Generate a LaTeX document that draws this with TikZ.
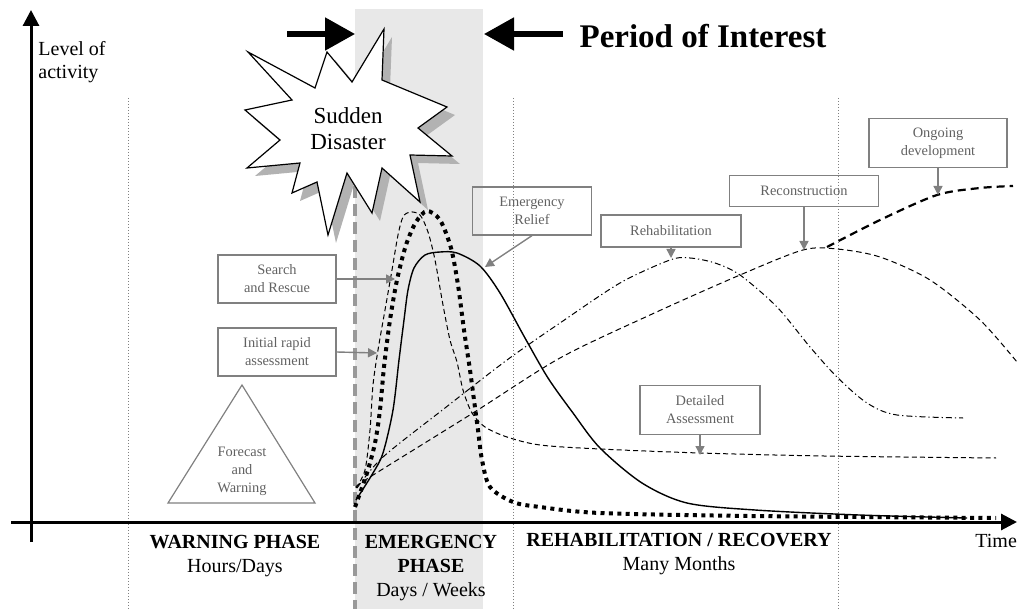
\documentclass[tikz,border=0pt]{standalone}
\usepackage{fontspec}
\setmainfont{Liberation Serif}
\usetikzlibrary{arrows.meta}

\begin{document}
\begin{tikzpicture}[
  x=0.5pt, y=-0.5pt,
  tag/.style={draw=black!50, text=black!62, line width=0.6pt, align=center, inner sep=0pt, font=\fontsize{7.2}{9}\selectfont},
  pointer/.style={-{Triangle[length=4.5pt,width=4.5pt]}, draw=black!50, line width=0.7pt},
  axis/.style={-{Triangle[length=8pt,width=8pt]}, line width=1.5pt},
  bigarrow/.style={-{Triangle[length=15pt,width=16pt]}, line width=2.6pt},
  phase/.style={align=center, anchor=north, inner sep=0pt, font=\fontsize{10}{12}\selectfont},
  divider/.style={draw=black!50, line width=0.4pt, dash pattern=on 0.6pt off 0.9pt},
  onset/.style={draw=black!40, line width=2pt, dash pattern=on 6pt off 3pt},
  rescuec/.style={line width=0.5pt, dash pattern=on 2.5pt off 1.6pt},
  reliefc/.style={line width=0.7pt},
  peakc/.style={line width=2pt, dash pattern=on 2pt off 2.2pt},
  rehabc/.style={line width=0.5pt, dash pattern=on 3pt off 1.5pt on 0.6pt off 1.5pt},
  reconc/.style={line width=0.5pt, dash pattern=on 2.8pt off 1.8pt},
  ongoingc/.style={line width=1.1pt, dash pattern=on 4pt off 2.5pt}
]
\useasboundingbox (0,0) rectangle (1017,609);

% period of interest band
\fill[black!9] (355,9) rectangle (483,609);
\draw[divider] (128,98) -- (128,609);
\draw[divider] (513,98) -- (513,609);
\draw[divider] (838,98) -- (838,609);
\draw[onset] (355,150) -- (355,609);

% sudden disaster
\fill[black!30, shift={(8,8)}] (384,29) -- (382,80) -- (447,107) -- (418,128) -- (452,156) -- (410,155) -- (420,202) -- (382,168) -- (372,213) -- (347,173) -- (328,235) -- (317,182) -- (292,193) -- (300,163) -- (247,168) -- (280,140) -- (245,110) -- (292,100) -- (248,52) -- (315,88) -- (327,52) -- (352,82) -- cycle;
\draw[fill=white, line width=0.6pt] (384,29) -- (382,80) -- (447,107) -- (418,128) -- (452,156) -- (410,155) -- (420,202) -- (382,168) -- (372,213) -- (347,173) -- (328,235) -- (317,182) -- (292,193) -- (300,163) -- (247,168) -- (280,140) -- (245,110) -- (292,100) -- (248,52) -- (315,88) -- (327,52) -- (352,82) -- cycle;
\node[align=center, inner sep=0pt, font=\fontsize{11.5}{13}\selectfont] (sudden) at (348,129) {Sudden\\Disaster};

% axes
\coordinate (ybot) at (31,542);
\coordinate (ytop) at (31,10);
\coordinate (xleft) at (11,522);
\coordinate (xright) at (1017,522);
\draw[axis] (ybot) -- (ytop);
\draw[axis] (xleft) -- (xright);
\node[anchor=north west, align=left, inner sep=0pt, font=\fontsize{10}{11.5}\selectfont] (level) at (38,41) {Level of\\activity};
\node[anchor=base west, inner sep=0pt, font=\fontsize{10}{12}\selectfont] (time) at (975,547) {Time};

% period arrows
\coordinate (inL) at (287,34);
\coordinate (bandL) at (355,34);
\coordinate (inR) at (563,34);
\coordinate (bandR) at (484,34);
\draw[bigarrow] (inL) -- (bandL);
\draw[bigarrow] (inR) -- (bandR);
\node[inner sep=0pt, font=\bfseries\fontsize{16.5}{20}\selectfont] (interest) at (703,36) {Period of Interest};

% curves
\draw[rescuec] plot[smooth, tension=0.5] coordinates {(356,488) (365,470) (370,430) (373,385) (378,350) (385,310) (392,270) (398,235) (403,217) (410,212) (420,215) (428,232) (435,260) (443,305) (450,340) (457,362) (463,390) (472,413) (485,427) (507,437) (540,445) (600,449) (700,453) (824,456) (996,458)};
\draw[rehabc] plot[smooth, tension=0.5] coordinates {(357,488) (383,457) (445,408) (507,360) (560,323) (620,283) (670,260) (690,258) (715,263) (740,275) (777,307) (810,347) (837,377) (867,403) (897,415) (963,418)};
\draw[reconc] plot[smooth, tension=0.5] coordinates {(356,487) (370,477) (473,413) (560,358) (650,315) (740,275) (803,250) (837,249) (880,257) (930,280) (980,320) (1017,362)};
\draw[ongoingc] plot[smooth, tension=0.5] coordinates {(827,247) (880,220) (937,195) (980,188) (1013,186)};
\draw[reliefc] plot[smooth, tension=0.5] coordinates {(356,500) (373,473) (383,453) (393,410) (399,360) (404,320) (408,290) (414,268) (425,255) (440,252) (457,253) (480,266) (500,293) (525,338) (548,378) (573,413) (600,448) (642,483) (687,503) (755,510) (859,515) (967,518)};
\draw[peakc] plot[smooth, tension=0.5] coordinates {(355,507) (367,473) (375,443) (380,410) (384,367) (390,320) (397,280) (406,245) (416,222) (427,211) (440,220) (451,248) (458,285) (464,330) (470,370) (474,400) (478,430) (482,460) (490,487) (513,502) (540,507) (600,513) (750,516) (996,518)};

% labels
\node[tag, minimum width=59pt, minimum height=24pt] (search) at (277,279) {Search\\and Rescue};
\node[tag, minimum width=59pt, minimum height=24pt] (initial) at (277,352) {Initial rapid\\assessment};
\node[tag, minimum width=59.5pt, minimum height=24pt] (relief) at (532,211) {Emergency\\Relief};
\node[tag, minimum width=70pt, minimum height=16pt] (rehab) at (671,231) {Rehabilitation};
\node[tag, minimum width=74.5pt, minimum height=15.5pt] (recon) at (804,191) {Reconstruction};
\node[tag, minimum width=69pt, minimum height=24.5pt] (ongoing) at (938,143) {Ongoing\\development};
\node[tag, minimum width=60pt, minimum height=24.5pt] (detailed) at (700,410) {Detailed\\Assessment};

\coordinate (tipsearch) at (395,279);
\coordinate (tipinitial) at (377,353);
\coordinate (tiprelief) at (485,267);
\coordinate (tiprehab) at (671,258);
\coordinate (tiprecon) at (804,250);
\coordinate (tipongoing) at (938,195);
\coordinate (tipdetailed) at (700,455);
\draw[pointer] (search.east) -- (tipsearch);
\draw[pointer] (initial.east) -- (tipinitial);
\draw[pointer] (relief.south) -- (tiprelief);
\draw[pointer] (rehab.south) -- (tiprehab);
\draw[pointer] (recon.south) -- (tiprecon);
\draw[pointer] (ongoing.south) -- (tipongoing);
\draw[pointer] (detailed.south) -- (tipdetailed);

% forecast
\draw[draw=black!50, line width=0.6pt] (242,385) -- (315,503) -- (168,503) -- cycle;
\node[align=center, inner sep=0pt, text=black!62, font=\fontsize{7.2}{9}\selectfont] (forecast) at (242,471) {Forecast\\and\\Warning};

% phases
\node[phase] (warning) at (235,535) {\textbf{WARNING PHASE}\\Hours/Days};
\node[phase] (emergency) at (431,535) {\textbf{EMERGENCY}\\\textbf{PHASE}\\Days / Weeks};
\node[phase] (recovery) at (679,533) {\textbf{REHABILITATION / RECOVERY}\\Many Months};
\end{tikzpicture}
\end{document}
